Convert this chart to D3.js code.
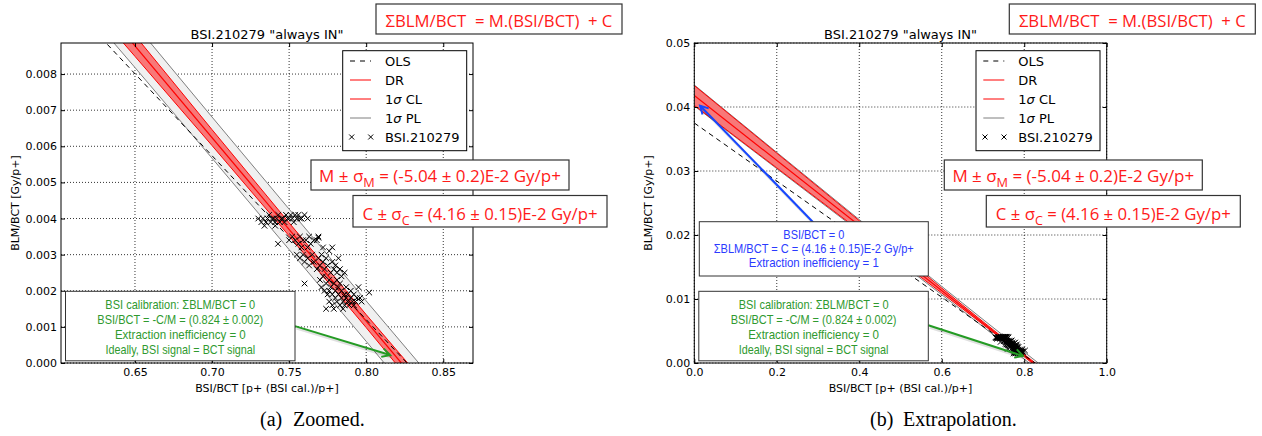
<!DOCTYPE html>
<html>
<head>
<meta charset="utf-8">
<script src="https://cdn.jsdelivr.net/npm/d3@7"></script>
<style>
  body { margin: 0; background: #fff; }
</style>
</head>
<body>
<svg id="chart" width="1262" height="436" font-family="DejaVu Sans"></svg>
<script>
// ---- data ----
const titleText = 'BSI.210279 "always IN"';
const xLabelText = "BSI/BCT [p+ (BSI cal.)/p+]";
const yLabelText = "BLM/BCT [Gy/p+]";

const xTicksA = [0.65, 0.70, 0.75, 0.80, 0.85];
const xTickLabelsA = ["0.65", "0.70", "0.75", "0.80", "0.85"];
const yTicksA = [0, 0.001, 0.002, 0.003, 0.004, 0.005, 0.006, 0.007, 0.008];
const yTickLabelsA = ["0.000", "0.001", "0.002", "0.003", "0.004", "0.005", "0.006", "0.007", "0.008"];
const xRangeA = [0.602, 0.8693];
const yRangeA = [0, 0.00886];

const xTicksB = [0, 0.2, 0.4, 0.6, 0.8, 1.0];
const xTickLabelsB = ["0.0", "0.2", "0.4", "0.6", "0.8", "1.0"];
const yTicksB = [0, 0.01, 0.02, 0.03, 0.04, 0.05];
const yTickLabelsB = ["0.00", "0.01", "0.02", "0.03", "0.04", "0.05"];
const xRangeB = [0, 1];
const yRangeB = [0, 0.05];

// fitted lines (end points)
const olsX = [0, 0.8265];
const olsY = [0.0375, 0];
const drX = [0, 0.8228];
const drY = [0.0418, 0];

// 1 sigma confidence (CL) and prediction (PL) limits
const bandX  = [0, 0.2, 0.4, 0.6, 0.65, 0.7, 0.75, 0.8, 0.85, 0.9, 1.0];
const clLow  = [0.04025, 0.03049, 0.02072, 0.01094, 0.00849, 0.00602, 0.00352, 0.00098, -0.00161, -0.00423, -0.00949];
const clHigh = [0.04335, 0.03279, 0.02224, 0.01170, 0.00907, 0.00646, 0.00388, 0.00134, -0.00115, -0.00361, -0.00851];
const plLow  = [0.04016, 0.03037, 0.02055, 0.01067, 0.00818, 0.00567, 0.00314, 0.00060, -0.00196, -0.00453, -0.00972];
const plHigh = [0.04344, 0.03291, 0.02241, 0.01197, 0.00938, 0.00681, 0.00426, 0.00172, -0.00080, -0.00331, -0.00828];

// BSI.210279 measurements
const pointX = [
  0.730, 0.732, 0.733, 0.735, 0.736, 0.737, 0.738, 0.739, 0.740, 0.741, 0.742, 0.743, 0.744, 0.745, 0.746, 0.747,
  0.748, 0.749, 0.750, 0.751, 0.752, 0.753, 0.754, 0.755, 0.756, 0.757, 0.758, 0.760, 0.762, 0.734, 0.741,
  0.7428, 0.760,
  0.750, 0.752, 0.754, 0.756, 0.757, 0.759, 0.761, 0.763, 0.764, 0.766, 0.768, 0.769, 0.758, 0.762,
  0.755, 0.757, 0.759, 0.760, 0.762, 0.763, 0.765, 0.766, 0.768, 0.769, 0.770, 0.771, 0.772, 0.773, 0.774,
  0.775, 0.776, 0.777, 0.778, 0.779, 0.780, 0.781, 0.782, 0.783, 0.784, 0.786, 0.778, 0.769, 0.772,
  0.770, 0.771, 0.772, 0.773, 0.774, 0.775, 0.776, 0.776, 0.777, 0.778, 0.778, 0.779, 0.780, 0.780, 0.781,
  0.782, 0.782, 0.783, 0.784, 0.784, 0.785, 0.786, 0.786, 0.787, 0.788, 0.788, 0.789, 0.790, 0.791, 0.792,
  0.793, 0.794, 0.795, 0.796, 0.797, 0.774, 0.779, 0.783, 0.787, 0.790, 0.776, 0.781, 0.785, 0.792, 0.802
];
const pointY = [
  0.0040, 0.0039, 0.0040, 0.0039, 0.0040, 0.0041, 0.0039, 0.0040, 0.0040, 0.0039, 0.0040, 0.0041, 0.0039, 0.0040, 0.0040, 0.0039,
  0.0041, 0.0040, 0.0040, 0.0041, 0.0040, 0.0039, 0.0041, 0.0040, 0.0041, 0.0040, 0.0040, 0.0041, 0.0040, 0.0038, 0.0038,
  0.0033, 0.0022,
  0.0034, 0.0035, 0.0034, 0.0033, 0.0035, 0.0034, 0.0034, 0.0035, 0.0033, 0.0034, 0.0034, 0.0035, 0.0032, 0.0032,
  0.0030, 0.0029, 0.0030, 0.0028, 0.0029, 0.0027, 0.0030, 0.0028, 0.0026, 0.0029, 0.0027, 0.0030, 0.0028, 0.0026, 0.0029,
  0.0027, 0.0031, 0.0025, 0.0028, 0.0026, 0.0027, 0.0025, 0.0029, 0.0026, 0.0024, 0.0025, 0.0032, 0.00347, 0.0032,
  0.0023, 0.0021, 0.0024, 0.0020, 0.0022, 0.0019, 0.0023, 0.0017, 0.0021, 0.0019, 0.0016, 0.0022, 0.0018, 0.0020, 0.0017,
  0.0021, 0.0019, 0.0016, 0.0018, 0.0020, 0.0017, 0.0019, 0.0016, 0.0018, 0.0017, 0.0019, 0.0016, 0.0018, 0.0017, 0.0019,
  0.0017, 0.0018, 0.0021, 0.0018, 0.0017, 0.0015, 0.0015, 0.0022, 0.0021, 0.0020, 0.0020, 0.0023, 0.0015, 0.0016, 0.00195
];

const legendLabels = ["OLS", "DR", "1σ CL", "1σ PL", "BSI.210279"];

const eqText = "ΣBLM/BCT  = M.(BSI/BCT)  + C";
const greenLines = ["BSI calibration: ΣBLM/BCT = 0", "BSI/BCT = -C/M = (0.824 ± 0.002)",
                    "Extraction inefficiency = 0", "Ideally, BSI signal = BCT signal"];
const blueLines = ["BSI/BCT = 0", "ΣBLM/BCT = C = (4.16 ± 0.15)E-2 Gy/p+", "Extraction inefficiency = 1"];

// arrows: [tail, head] in data units
const greenArrowA = [[0.7538, 0.00102], [0.8155, 0.00022]];
const greenArrowB = [[0.5674, 0.0059], [0.797, 0.0011]];
const blueArrowB = [[0.288, 0.022], [0.014, 0.0402]];

// ---- drawing ----
const svg = d3.select("#chart");
const RED = "#ff1a1a", GREEN = "#2f9a2f", BLUE = "#2b3bff";
const sans = "'Open Sans', 'DejaVu Sans', sans-serif";
const boxFont = "'Liberation Sans', 'DejaVu Sans', sans-serif";

// centred text squeezed horizontally to a target width (Calibri-like look)
function squeezed(g, cx, cy, font, fs, target, color, build) {
  const t = g.append("text").attr("x", 0).attr("y", 0).attr("text-anchor", "middle")
    .attr("font-family", font).attr("font-size", fs).attr("fill", color).style("white-space", "pre");
  build(t);
  const k = target / t.node().getComputedTextLength();
  t.attr("transform", `translate(${cx},${cy}) scale(${k.toFixed(4)},1)`);
  return t;
}

function drawArrow(g, x1, y1, x2, y2, color) {
  const ang = Math.atan2(y2 - y1, x2 - x1);
  const L = 9, a = 0.5;
  const head = `M${x2 - L * Math.cos(ang - a)},${y2 - L * Math.sin(ang - a)}L${x2},${y2}L${x2 - L * Math.cos(ang + a)},${y2 - L * Math.sin(ang + a)}`;
  g.append("line").attr("x1", x1 + 1.5).attr("y1", y1 + 2).attr("x2", x2 + 1.5).attr("y2", y2 + 2)
    .attr("stroke", "#000").attr("stroke-opacity", 0.12).attr("stroke-width", 3);
  g.append("line").attr("x1", x1).attr("y1", y1).attr("x2", x2).attr("y2", y2)
    .attr("stroke", color).attr("stroke-width", 2);
  g.append("path").attr("d", head).attr("fill", "none").attr("stroke", color).attr("stroke-width", 2);
}

function drawPanel(p) {
  const x = d3.scaleLinear().domain(p.xRange).range([p.left, p.right]);
  const y = d3.scaleLinear().domain(p.yRange).range([p.bottom, p.top]);
  const g = svg.append("g");

  svg.append("clipPath").attr("id", "clip" + p.id).append("rect")
    .attr("x", p.left).attr("y", p.top).attr("width", p.right - p.left).attr("height", p.bottom - p.top);

  // grid
  g.append("g").selectAll("line").data(p.xTicks).join("line")
    .attr("x1", d => x(d)).attr("x2", d => x(d)).attr("y1", p.top).attr("y2", p.bottom)
    .attr("stroke", "#000").attr("stroke-width", 0.8).attr("stroke-dasharray", "1,2");
  g.append("g").selectAll("line").data(p.yTicks).join("line")
    .attr("y1", d => y(d)).attr("y2", d => y(d)).attr("x1", p.left).attr("x2", p.right)
    .attr("stroke", "#000").attr("stroke-width", 0.8).attr("stroke-dasharray", "1,2");

  const plot = g.append("g").attr("clip-path", `url(#clip${p.id})`);
  const idx = d3.range(bandX.length);
  const area = (lo, hi) => d3.area().x(i => x(bandX[i])).y0(i => y(lo[i])).y1(i => y(hi[i]))(idx);
  const edge = arr => d3.line().x(i => x(bandX[i])).y(i => y(arr[i]))(idx);
  const seg = (xs, ys) => d3.line().x(i => x(xs[i])).y(i => y(ys[i]))(d3.range(xs.length));

  plot.append("path").attr("d", area(plLow, plHigh)).attr("fill", "#f0f0f0");
  [plLow, plHigh].forEach(a => plot.append("path").attr("d", edge(a))
    .attr("fill", "none").attr("stroke", "#7f7f7f").attr("stroke-width", 1));
  plot.append("path").attr("d", area(clLow, clHigh)).attr("fill", "#ff0000").attr("fill-opacity", 0.5);
  [clLow, clHigh].forEach(a => plot.append("path").attr("d", edge(a))
    .attr("fill", "none").attr("stroke", "#ff0000").attr("stroke-width", 1));
  plot.append("path").attr("d", seg(drX, drY)).attr("fill", "none").attr("stroke", "#ff0000").attr("stroke-width", 1.2);
  plot.append("path").attr("d", seg(olsX, olsY)).attr("fill", "none").attr("stroke", "#000")
    .attr("stroke-width", 1).attr("stroke-dasharray", "5,4");

  plot.append("g").selectAll("path").data(d3.range(pointX.length)).join("path")
    .attr("transform", i => `translate(${x(pointX[i])},${y(pointY[i])})`)
    .attr("d", "M-2.8,-2.8L2.8,2.8M-2.8,2.8L2.8,-2.8")
    .attr("stroke", "#000").attr("stroke-width", 1).attr("fill", "none");

  // axes with inward ticks on all four sides
  const fmt = labels => (d, i) => labels[i];
  const axes = [
    [d3.axisBottom(x).tickValues(p.xTicks).tickFormat(fmt(p.xLabels)), `translate(0,${p.bottom})`, 5],
    [d3.axisTop(x).tickValues(p.xTicks).tickFormat(""), `translate(0,${p.top})`, 0],
    [d3.axisLeft(y).tickValues(p.yTicks).tickFormat(fmt(p.yLabels)), `translate(${p.left},0)`, 4],
    [d3.axisRight(y).tickValues(p.yTicks).tickFormat(""), `translate(${p.right},0)`, 0]
  ];
  axes.forEach(([ax, tr, pad]) => {
    const a = g.append("g").attr("transform", tr)
      .call(ax.tickSizeInner(-4).tickSizeOuter(0).tickPadding(pad));
    a.select(".domain").remove();
    a.attr("font-family", "DejaVu Sans").attr("font-size", 11);
    a.selectAll("text").attr("fill", "#000");
    a.selectAll(".tick line").attr("stroke", "#000");
  });
  g.append("rect").attr("x", p.left).attr("y", p.top).attr("width", p.right - p.left)
    .attr("height", p.bottom - p.top).attr("fill", "none").attr("stroke", "#000").attr("stroke-width", 1);

  // titles
  const cx = (p.left + p.right) / 2;
  g.append("text").attr("x", cx).attr("y", 39).attr("text-anchor", "middle").attr("font-size", 13).text(titleText);
  g.append("text").attr("x", cx).attr("y", 392).attr("text-anchor", "middle").attr("font-size", 11).text(xLabelText);
  g.append("text").attr("transform", `translate(${p.left - 42},${(p.top + p.bottom) / 2}) rotate(-90)`)
    .attr("text-anchor", "middle").attr("font-size", 11).text(yLabelText);

  // arrows
  p.arrows.forEach(([ar, col]) => drawArrow(g, x(ar[0][0]), y(ar[0][1]), x(ar[1][0]), y(ar[1][1]), col));

  const L = p.left;
  // blue annotation box
  if (p.blue) {
    g.append("rect").attr("x", L + 5).attr("y", 221.7).attr("width", 229).attr("height", 54.3)
      .attr("fill", "#fff").attr("stroke", "#333").attr("stroke-width", 1);
    const bw = [61, 200, 130];
    blueLines.forEach((s, i) => squeezed(g, L + 119.5, 239.3 + i * 14, boxFont, 12.2, bw[i], BLUE, t => t.text(s)));
  }
  // green annotation box
  g.append("rect").attr("x", L + 4.5).attr("y", 291.3).attr("width", 229.5).attr("height", 69.5)
    .attr("fill", "#fff").attr("stroke", "#333").attr("stroke-width", 1);
  const gw = [150, 166, 131, 150];
  greenLines.forEach((s, i) => squeezed(g, L + 119.3, 309.3 + i * 14.9, boxFont, 12.8, gw[i], GREEN, t => t.text(s)));

  // legend
  const lg = g.append("g").attr("transform", `translate(${L + 281.7},50.7)`);
  lg.append("rect").attr("width", 124).attr("height", 100).attr("fill", "#fff").attr("stroke", "#000");
  const samples = [
    {stroke: "#000", dash: "5,5"}, {stroke: "#ff0000"}, {stroke: "#ff0000"}, {stroke: "#7f7f7f"}, {marker: true}
  ];
  legendLabels.forEach((lab, i) => {
    const yy = 10.3 + i * 19;
    const s = samples[i];
    if (s.marker) {
      [9, 28].forEach(mx => lg.append("path").attr("transform", `translate(${mx},${yy})`)
        .attr("d", "M-2.5,-2.5L2.5,2.5M-2.5,2.5L2.5,-2.5").attr("stroke", "#000").attr("fill", "none"));
    } else {
      lg.append("line").attr("x1", 7.3).attr("x2", 28.3).attr("y1", yy).attr("y2", yy)
        .attr("stroke", s.stroke).attr("stroke-width", 1).attr("stroke-dasharray", s.dash || null);
    }
    const t = lg.append("text").attr("x", 42.3).attr("y", yy + 4.7).attr("font-size", 13);
    if (lab.includes("σ")) {
      const parts = lab.split("σ");
      t.append("tspan").text(parts[0]);
      t.append("tspan").attr("font-style", "italic").text("σ");
      t.append("tspan").text(parts[1]);
    } else {
      t.text(lab);
    }
  });

  // red formula boxes
  const box = (bx, by, bw, bh, ty, tw, build) => {
    g.append("rect").attr("x", bx).attr("y", by).attr("width", bw).attr("height", bh)
      .attr("fill", "#fff").attr("stroke", "#333").attr("stroke-width", 1.2);
    squeezed(g, bx + bw / 2, ty, sans, 16.5, tw, RED, build);
  };
  box(L + 315, 4, 246, 30, 27, 227, t => t.text(eqText));
  box(L + 250, 160, 258, 30, 181.5, 242, t => {
    t.append("tspan").text("M ± σ");
    t.append("tspan").attr("dy", 5).attr("font-size", "0.75em").text("M");
    t.append("tspan").attr("dy", -5).text(" = (-5.04 ± 0.2)E-2 Gy/p+");
  });
  box(L + 292, 195.5, 254, 31.5, 220, 235, t => {
    t.append("tspan").text("C ± σ");
    t.append("tspan").attr("dy", 5).attr("font-size", "0.75em").text("C");
    t.append("tspan").attr("dy", -5).text(" = (4.16 ± 0.15)E-2 Gy/p+");
  });

  // caption
  [[p.capX, p.capTag], [p.capX + 33, p.capText]].forEach(([cxp, s]) =>
    g.append("text").attr("x", cxp).attr("y", 426)
      .attr("font-family", "'Liberation Serif', 'DejaVu Serif', serif").attr("font-size", 20).text(s));
}

drawPanel({
  id: "a", left: 61, right: 473, top: 43, bottom: 363,
  xRange: xRangeA, yRange: yRangeA, xTicks: xTicksA, xLabels: xTickLabelsA, yTicks: yTicksA, yLabels: yTickLabelsA,
  arrows: [[greenArrowA, "#249b24"]], blue: false,
  capX: 260, capTag: "(a)", capText: "Zoomed."
});
drawPanel({
  id: "b", left: 694.3, right: 1106.7, top: 43, bottom: 363,
  xRange: xRangeB, yRange: yRangeB, xTicks: xTicksB, xLabels: xTickLabelsB, yTicks: yTicksB, yLabels: yTickLabelsB,
  arrows: [[blueArrowB, "#1646ff"], [greenArrowB, "#249b24"]], blue: true,
  capX: 870, capTag: "(b)", capText: "Extrapolation."
});
</script>
</body>
</html>
